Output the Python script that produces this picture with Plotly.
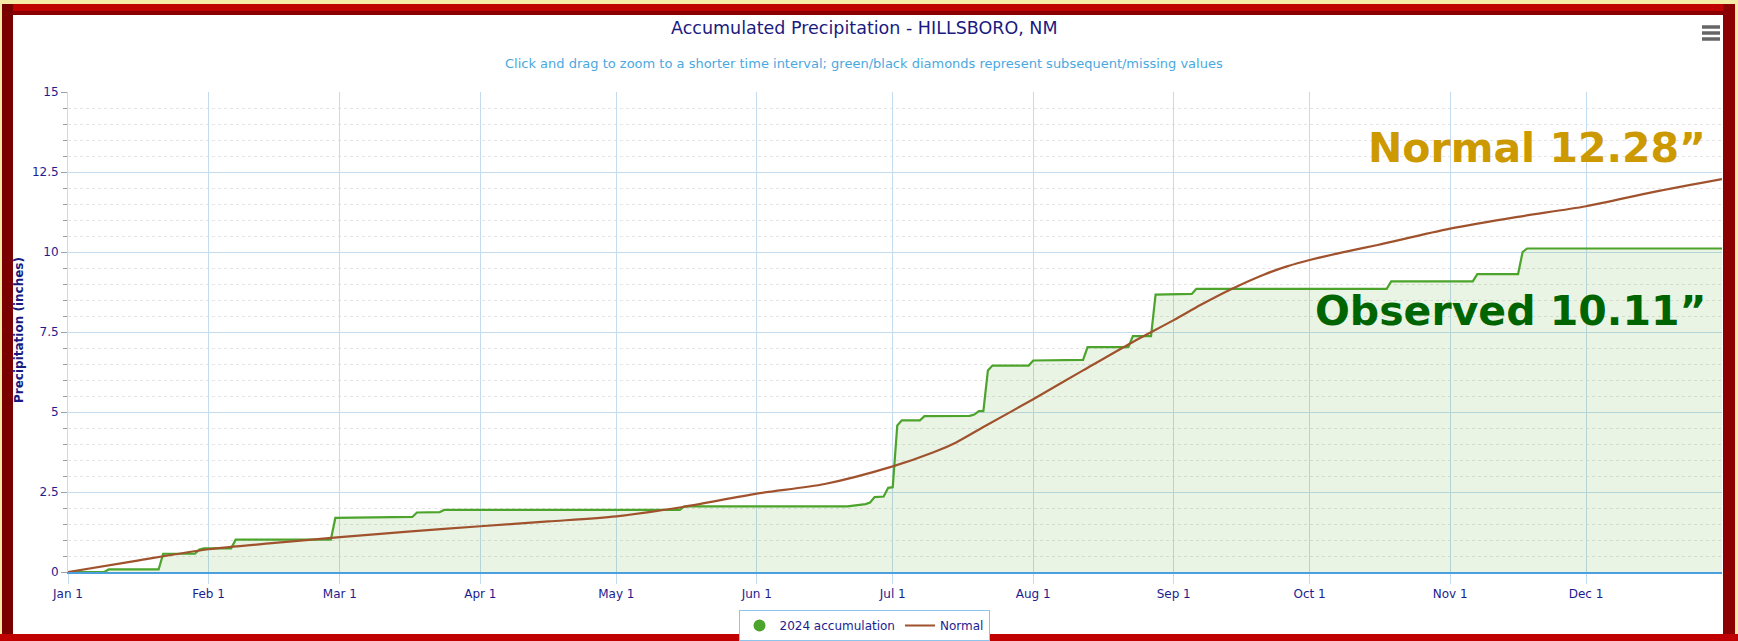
import plotly.graph_objects as go

# ---------------- data ----------------
obs_dates = ["2024-01-01", "2024-01-09", "2024-01-10", "2024-01-21", "2024-01-22", "2024-01-29",
             "2024-01-30", "2024-01-31", "2024-02-06", "2024-02-07", "2024-02-28", "2024-02-29",
             "2024-03-17", "2024-03-18", "2024-03-23", "2024-03-24", "2024-05-15", "2024-05-16",
             "2024-06-21", "2024-06-23", "2024-06-25", "2024-06-26", "2024-06-27", "2024-06-29",
             "2024-06-30", "2024-07-01", "2024-07-02", "2024-07-03", "2024-07-07", "2024-07-08",
             "2024-07-18", "2024-07-19", "2024-07-20", "2024-07-21", "2024-07-22", "2024-07-23",
             "2024-07-31", "2024-08-01", "2024-08-12", "2024-08-13", "2024-08-22", "2024-08-23",
             "2024-08-27", "2024-08-28", "2024-09-05", "2024-09-06", "2024-10-18", "2024-10-19",
             "2024-11-06", "2024-11-07", "2024-11-16", "2024-11-17", "2024-11-18", "2024-12-31"]
obs_values = [0.00, 0.00, 0.08, 0.08, 0.57, 0.57,
              0.70, 0.74, 0.74, 1.01, 1.01, 1.69,
              1.72, 1.86, 1.87, 1.94, 1.94, 2.05,
              2.05, 2.09, 2.12, 2.17, 2.34, 2.36,
              2.63, 2.65, 4.58, 4.74, 4.74, 4.87,
              4.88, 4.92, 5.03, 5.03, 6.30, 6.45,
              6.45, 6.61, 6.63, 7.03, 7.03, 7.37,
              7.37, 8.67, 8.69, 8.85, 8.85, 9.08,
              9.08, 9.31, 9.31, 10.00, 10.11, 10.11]

norm_dates = ["2024-01-01", "2024-01-16", "2024-02-01", "2024-02-15", "2024-03-01", "2024-03-16",
              "2024-04-01", "2024-04-16", "2024-05-01", "2024-05-16", "2024-06-01",
              "2024-06-16", "2024-07-01", "2024-07-10", "2024-07-15", "2024-07-21", "2024-08-01",
              "2024-08-12", "2024-08-23", "2024-09-01", "2024-09-07", "2024-09-14", "2024-09-21",
              "2024-09-26", "2024-10-01", "2024-10-08", "2024-10-16",
              "2024-11-01", "2024-11-16", "2024-12-01", "2024-12-16", "2024-12-31"]
norm_values = [0.00, 0.35, 0.71, 0.90, 1.09, 1.26,
               1.43, 1.58, 1.74, 2.04, 2.45,
               2.75, 3.30, 3.74, 4.05, 4.53, 5.40,
               6.30, 7.19, 7.87, 8.35, 8.86, 9.30,
               9.55, 9.75, 9.98, 10.22,
               10.73, 11.10, 11.43, 11.88, 12.28]

month_ticks = ["2024-01-01", "2024-02-01", "2024-03-01", "2024-04-01", "2024-05-01", "2024-06-01",
               "2024-07-01", "2024-08-01", "2024-09-01", "2024-10-01", "2024-11-01", "2024-12-01"]
month_labels = ["Jan 1", "Feb 1", "Mar 1", "Apr 1", "May 1", "Jun 1",
                "Jul 1", "Aug 1", "Sep 1", "Oct 1", "Nov 1", "Dec 1"]

title_text = "Accumulated Precipitation - HILLSBORO, NM"
subtitle_text = "Click and drag to zoom to a shorter time interval; green/black diamonds represent subsequent/missing values"
normal_label = "Normal 12.28\u201d"
observed_label = "Observed 10.11\u201d"

# ---------------- layout geometry ----------------
W, H = 1738, 641
ML, MR, MT, MB = 68, 16, 92, 69
PW, PH = W - ML - MR, H - MT - MB


def px(x):
    return (x - ML) / PW


def py(y):
    return (H - MB - y) / PH


GREEN = "#4ca42c"
BROWN = "#a0522d"
NAVY = "#1c1c8f"
FONT = "DejaVu Sans"

fig = go.Figure()
fig.add_trace(go.Scatter(
    x=obs_dates, y=obs_values, mode="lines", line=dict(color=GREEN, width=2.2),
    fill="tozeroy", fillcolor="rgba(76,168,40,0.12)", showlegend=False, name="2024 accumulation"))
fig.add_trace(go.Scatter(
    x=[None], y=[None], mode="markers", marker=dict(color=GREEN, size=12, symbol="circle"),
    name="2024 accumulation"))
fig.add_trace(go.Scatter(
    x=norm_dates, y=norm_values, mode="lines", line=dict(color=BROWN, width=2.2, shape="spline", smoothing=0.8),
    name="Normal"))

shapes = []
# frame
frame = [
    (0, 0, W, 4, "#f5e9a6"),
    (0, 4, W, 11, "#c00000"),
    (0, 11, W, 15, "#8a0000"),
    (0, 0, 2, H, "#f5e9a6"),
    (2, 4, 13, H, "#7a0000"),
    (1723, 4, 1735, H, "#8b0000"),
    (1735, 0, W, H, "#f5e9a6"),
    (0, 634, W, H, "#c00000"),
]
for x0, y0, x1, y1, c in frame:
    shapes.append(dict(type="rect", xref="paper", yref="paper", x0=px(x0), x1=px(x1), y0=py(y1), y1=py(y0),
                       fillcolor=c, line=dict(width=0), layer="above"))
# hamburger menu icon
for yy in (27, 33, 39):
    shapes.append(dict(type="line", xref="paper", yref="paper", x0=px(1702), x1=px(1720), y0=py(yy), y1=py(yy),
                       line=dict(color="#666666", width=3.5), layer="above"))

annotations = [
    dict(text=title_text, xref="paper", yref="paper", x=px(864), y=py(28), xanchor="center", yanchor="middle",
         showarrow=False, font=dict(family=FONT, size=17.5, color="#1a1a80")),
    dict(text=subtitle_text, xref="paper", yref="paper", x=px(864), y=py(63), xanchor="center", yanchor="middle",
         showarrow=False, font=dict(family=FONT, size=13, color="#4aa8e0")),
    dict(text="<b>Precipitation (inches)</b>", xref="paper", yref="paper", x=px(19), y=py(330), xanchor="center",
         yanchor="middle", textangle=-90, showarrow=False, font=dict(family=FONT, size=12, color="#1a1a80")),
    dict(text="<b>" + normal_label + "</b>", xref="paper", yref="paper", x=px(1708), y=py(148), xanchor="right",
         yanchor="middle", showarrow=False, font=dict(family=FONT, size=41, color="#cc9900")),
    dict(text="<b>" + observed_label + "</b>", xref="paper", yref="paper", x=px(1708), y=py(311), xanchor="right",
         yanchor="middle", showarrow=False, font=dict(family=FONT, size=41, color="#006400")),
]

fig.update_layout(
    width=W, height=H,
    margin=dict(l=ML, r=MR, t=MT, b=MB, autoexpand=False),
    paper_bgcolor="white", plot_bgcolor="white",
    font=dict(family=FONT, size=12, color=NAVY),
    showlegend=True,
    legend=dict(orientation="h", x=px(864), xanchor="center", y=py(610), yanchor="top",
                bgcolor="white", bordercolor="#8cc4ec", borderwidth=1,
                font=dict(family=FONT, size=12, color=NAVY), itemwidth=30),
    shapes=shapes, annotations=annotations,
    hovermode=False,
)
fig.update_xaxes(
    type="date", range=["2024-01-01", "2024-12-31"],
    tickvals=month_ticks, ticktext=month_labels,
    showgrid=True, gridcolor="#c4dbee", gridwidth=1,
    ticks="outside", ticklen=10, tickcolor="#c4dbee",
    showline=True, linecolor="#4a9fdf", linewidth=1.5,
    tickfont=dict(family=FONT, size=12, color=NAVY), zeroline=False,
)
fig.update_yaxes(
    range=[0, 15], dtick=2.5, tick0=0,
    showgrid=True, gridcolor="#c4dbee", gridwidth=1,
    ticks="outside", ticklen=6, tickcolor="#9aa0aa",
    showline=True, linecolor="#c4dbee", linewidth=1,
    tickfont=dict(family=FONT, size=12, color=NAVY), zeroline=False,
    minor=dict(dtick=0.5, showgrid=True, gridcolor="#e4e4e4", griddash="dot", gridwidth=1,
               ticks="outside", ticklen=4, tickcolor="#9aa0aa"),
)

fig.write_html("out.html", config={"displayModeBar": False},
               post_script="document.body.style.margin='0px';document.body.style.overflow='hidden';")
